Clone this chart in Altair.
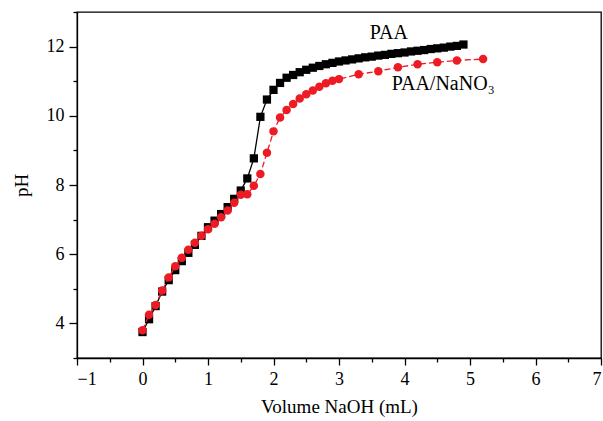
import altair as alt
import pandas as pd

# PAA (black squares)
paa_x = [0.0, 0.1, 0.2, 0.3, 0.4, 0.5, 0.6, 0.7, 0.8, 0.9,
         1.0, 1.1, 1.2, 1.3, 1.4, 1.5, 1.6, 1.7, 1.8, 1.9,
         2.0, 2.1, 2.2, 2.3, 2.4, 2.5, 2.6, 2.7, 2.8, 2.9,
         3.0, 3.1, 3.2, 3.3, 3.4, 3.5, 3.6, 3.7, 3.8, 3.9,
         4.0, 4.1, 4.2, 4.3, 4.4, 4.5, 4.6, 4.7, 4.8, 4.9]
paa_ph = [3.75, 4.12, 4.50, 4.92, 5.25, 5.54, 5.80, 6.04, 6.27, 6.53,
          6.78, 6.97, 7.16, 7.36, 7.60, 7.84, 8.19, 8.77, 9.97, 10.47,
          10.75, 10.95, 11.10, 11.18, 11.26, 11.33, 11.39, 11.44, 11.49, 11.53,
          11.57, 11.60, 11.63, 11.66, 11.69, 11.71, 11.74, 11.76, 11.79, 11.81,
          11.83, 11.86, 11.88, 11.90, 11.93, 11.95, 11.97, 12.00, 12.02, 12.06]

# PAA/NaNO3 (red circles)
nano_x = [0.0, 0.1, 0.2, 0.3, 0.4, 0.5, 0.6, 0.7, 0.8, 0.9,
          1.0, 1.1, 1.2, 1.3, 1.4, 1.5, 1.6, 1.7, 1.8, 1.9,
          2.0, 2.1, 2.2, 2.3, 2.4, 2.5, 2.6, 2.7, 2.8, 2.9,
          3.0, 3.3, 3.6, 3.9, 4.2, 4.5, 4.8, 5.2]
nano_ph = [3.80, 4.25, 4.53, 4.95, 5.33, 5.65, 5.90, 6.13, 6.33, 6.53,
           6.72, 6.88, 7.07, 7.26, 7.49, 7.72, 7.73, 7.98, 8.32, 8.93,
           9.55, 9.95, 10.17, 10.34, 10.50, 10.62, 10.73, 10.84, 10.94, 11.01,
           11.06, 11.20, 11.29, 11.40, 11.49, 11.55, 11.60, 11.64]

label_text = ["PAA", "PAA/NaNO₃"]
label_x = [3.76, 4.59]
label_y = [12.38, 10.92]

x_major = [-1, 0, 1, 2, 3, 4, 5, 6, 7]
x_minor = [-0.5, 0.5, 1.5, 2.5, 3.5, 4.5, 5.5, 6.5]
y_major = [4, 6, 8, 10, 12]
y_minor = [3, 5, 7, 9, 11, 13]

FONT = "Liberation Serif"
RED = "#ed1c24"

df_paa = pd.DataFrame({"x": paa_x, "y": paa_ph})
df_nano = pd.DataFrame({"x": nano_x, "y": nano_ph})
df_lab = pd.DataFrame({"t": label_text, "x": label_x, "y": label_y})

xs = alt.Scale(domain=[-1, 7], nice=False, zero=False)
ys = alt.Scale(domain=[3, 13], nice=False, zero=False)

x_axis = alt.Axis(values=x_major, title="Volume NaOH (mL)", orient="bottom",
                  tickSize=7, labelPadding=5, titlePadding=9, grid=False,
                  labelExpr="datum.value < 0 ? '\u2212' + abs(datum.value) : datum.label")
y_axis = alt.Axis(values=y_major, title="pH", orient="left", tickSize=8,
                  labelPadding=5, titlePadding=15, grid=False)

paa_line = alt.Chart(df_paa).mark_line(color="black", strokeWidth=1.3).encode(
    x=alt.X("x:Q", scale=xs, axis=x_axis),
    y=alt.Y("y:Q", scale=ys, axis=y_axis),
)
paa_pts = alt.Chart(df_paa).mark_point(shape="square", filled=True, color="black",
                                       size=68, opacity=1).encode(
    x=alt.X("x:Q", scale=xs, axis=None), y=alt.Y("y:Q", scale=ys, axis=None))

nano_line = alt.Chart(df_nano).mark_line(color=RED, strokeWidth=1.3,
                                         strokeDash=[6, 3]).encode(
    x=alt.X("x:Q", scale=xs, axis=None), y=alt.Y("y:Q", scale=ys, axis=None))
nano_pts = alt.Chart(df_nano).mark_point(shape="circle", filled=True, color=RED,
                                         size=72, opacity=1).encode(
    x=alt.X("x:Q", scale=xs, axis=None), y=alt.Y("y:Q", scale=ys, axis=None))

labels = alt.Chart(df_lab).mark_text(font=FONT, fontSize=20, color="black",
                                     align="center", baseline="middle").encode(
    x=alt.X("x:Q", scale=xs, axis=None), y=alt.Y("y:Q", scale=ys, axis=None),
    text="t:N")

# minor ticks (axis-only layers)
minor_x = alt.Chart(pd.DataFrame({"x": x_minor})).mark_point(opacity=0).encode(
    x=alt.X("x:Q", scale=xs, axis=alt.Axis(values=x_minor, labels=False, title=None,
                                           tickSize=4, domain=False, grid=False,
                                           orient="bottom")))
minor_y = alt.Chart(pd.DataFrame({"y": y_minor})).mark_point(opacity=0).encode(
    y=alt.Y("y:Q", scale=ys, axis=alt.Axis(values=y_minor, labels=False, title=None,
                                           tickSize=4, domain=False, grid=False,
                                           orient="left")))

chart = alt.layer(paa_line, paa_pts, nano_line, nano_pts, labels, minor_x, minor_y
                  ).resolve_axis(x="independent", y="independent").properties(
    width=524, height=346,
    autosize=alt.AutoSizeParams(type="none"),
    padding={"left": 77, "top": 12, "right": 2, "bottom": 63},
).configure_view(stroke="black", strokeWidth=1.3).configure_axis(
    domainColor="black", tickColor="black", domainWidth=1.3, tickWidth=1.3,
    labelFont=FONT, titleFont=FONT, labelFontSize=18, titleFontSize=19,
    labelColor="black", titleColor="black", titleFontWeight="normal",
)

chart.save("out.html", embed_options={"renderer": "svg", "actions": False})
